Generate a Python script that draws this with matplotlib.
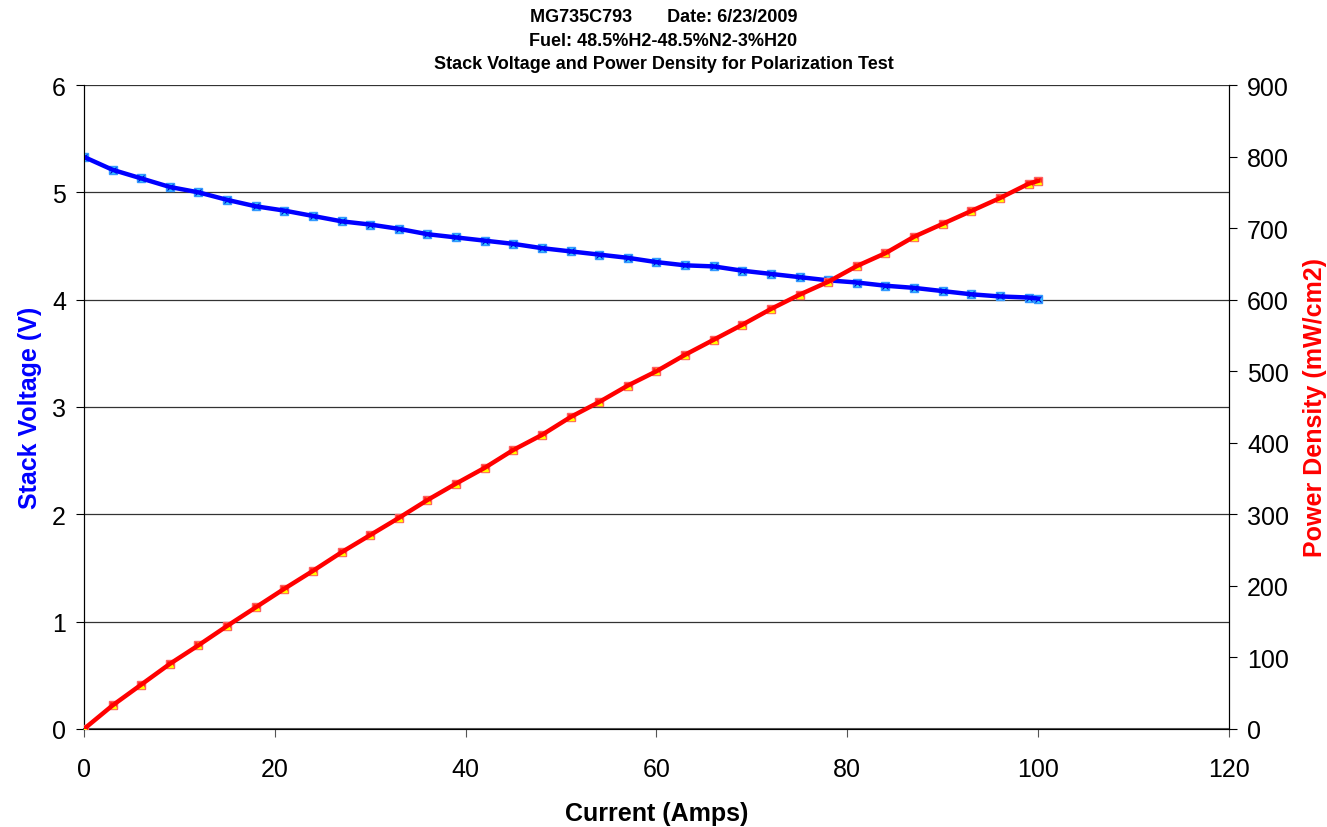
import matplotlib.pyplot as plt

plt.rcParams['font.family'] = ['Liberation Sans', 'DejaVu Sans']

# Current (Amps)
strom = [0, 3, 6, 9, 12, 15, 18, 21, 24, 27, 30, 33, 36, 39, 42, 45, 48, 51,
         54, 57, 60, 63, 66, 69, 72, 75, 78, 81, 84, 87, 90, 93, 96, 99, 100]

# Stack voltage (V)
spenning = [5.33, 5.21, 5.13, 5.05, 5.00, 4.93, 4.87, 4.83, 4.78, 4.73, 4.70,
            4.66, 4.61, 4.58, 4.55, 4.52, 4.48, 4.45, 4.42, 4.39, 4.35, 4.32,
            4.31, 4.27, 4.24, 4.21, 4.18, 4.16, 4.13, 4.11, 4.08, 4.05, 4.03,
            4.02, 4.01]

# Power density (mW/cm2)
effekt = [0, 33, 62, 91, 117, 144, 170, 196, 221, 247, 271, 295, 320, 343,
          365, 390, 411, 436, 457, 480, 500, 523, 544, 565, 587, 607, 625,
          647, 665, 688, 706, 724, 742, 762, 766]

fig = plt.figure(figsize=(13.27, 8.28), dpi=100)
ax = fig.add_axes([0.0633, 0.1184, 0.8628, 0.7777])
ax2 = ax.twinx()

# Spenning (venstre akse)
ax.plot(strom, spenning, linestyle="none", marker="s", markersize=6,
        markerfacecolor="#33CCFF", markeredgecolor="#3399FF", zorder=3)
ax.plot(strom, spenning, linestyle="none", marker="x", markersize=5,
        markeredgecolor="#0000CC", markeredgewidth=0.8, zorder=3)
ax.plot(strom, spenning, color="#0000FF", linewidth=3.2, zorder=4)

# Effekttetthet (høyre akse)
ax2.plot(strom, effekt, linestyle="none", marker="s", markersize=6,
         markerfacecolor="#FF2020", markeredgecolor="#FF6060", zorder=3)
ax2.plot(strom, effekt, linestyle="none", marker="^", markersize=5,
         markerfacecolor="#FFFF00", markeredgecolor="#FFFF00", zorder=3)
ax2.plot(strom, effekt, color="#FF0000", linewidth=3.2, zorder=4)

ax.set_xlim(0, 120)
ax.set_ylim(0, 6)
ax2.set_ylim(0, 900)
ax.set_xticks(range(0, 121, 20))
ax.set_yticks(range(0, 7))
ax2.set_yticks(range(0, 901, 100))

ax.grid(axis="y", color="#333333", linewidth=0.9)
ax.set_axisbelow(True)

for a in (ax, ax2):
    a.spines["top"].set_visible(False)
    a.tick_params(labelsize=18, direction="out", length=6, width=0.8, pad=7)
ax.spines["bottom"].set_color("#555555")
ax.spines["bottom"].set_linewidth(1.5)
ax.tick_params(axis="x", colors="#555555", labelcolor="black", pad=14)

ax.set_xlabel("Current (Amps)", fontsize=18, fontweight="bold")
ax.set_ylabel("Stack Voltage (V)", fontsize=18, fontweight="bold",
              color="#0000FF")
ax2.set_ylabel("Power Density (mW/cm2)", fontsize=18, fontweight="bold",
               color="#FF0000")
ax.xaxis.set_label_coords(0.5, -0.112)
ax.yaxis.set_label_coords(-0.037, 0.5)
ax2.yaxis.set_label_coords(1.065, 0.5)

fig.text(0.5, 0.989, "MG735C793       Date: 6/23/2009\nFuel: 48.5%H2-48.5%N2-3%H20\n"
         "Stack Voltage and Power Density for Polarization Test",
         ha="center", va="top", fontsize=13, fontweight="bold", linespacing=1.5)

fig.savefig("out.png", dpi=100)
